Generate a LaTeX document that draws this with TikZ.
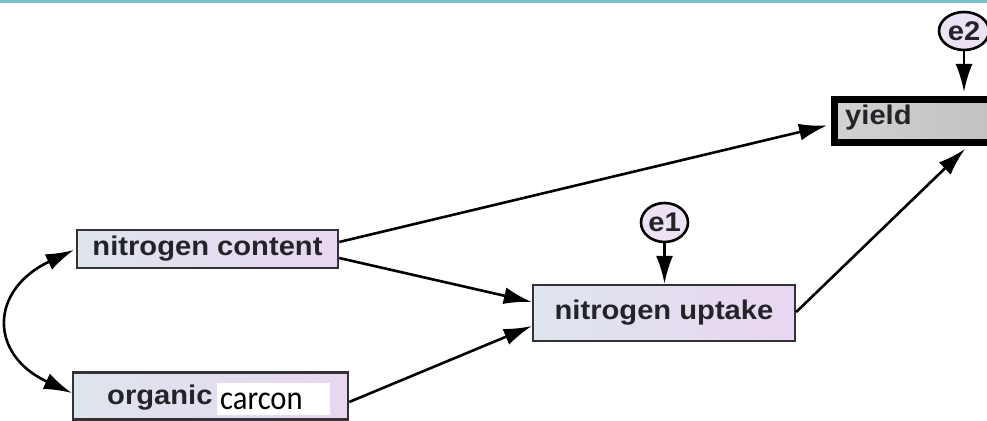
\documentclass[tikz,border=0pt]{standalone}
\usepackage{fontspec}
\usetikzlibrary{arrows.meta,shapes.geometric,calc}
\newfontfamily\lab{Liberation Sans}[FakeStretch=1.08]
\newfontfamily\calib{Carlito}[FakeStretch=0.9]
\newcommand\labfont{\lab\bfseries\fontsize{27}{30}\selectfont}
\definecolor{teal1}{RGB}{122,194,205}
\definecolor{boxline}{RGB}{50,50,55}
\definecolor{nl}{RGB}{222,229,236}
\definecolor{nr}{RGB}{233,214,241}
\definecolor{ellfill}{RGB}{236,226,243}
\definecolor{txt}{RGB}{35,35,40}
\definecolor{ygray}{RGB}{192,192,192}
\definecolor{ygrayl}{RGB}{210,210,210}
\tikzset{
  varbox/.style={draw=boxline, line width=2.4pt, inner sep=0pt, left color=nl, right color=nr, text=txt, font=\labfont},
  errell/.style={ellipse, draw=black, line width=2.6pt, fill=ellfill, inner sep=0pt, text=txt, font=\labfont},
  arr/.style={line width=2.6pt, -{Latex[length=28pt,width=17pt]}},
  darr/.style={line width=2.6pt, {Latex[length=28pt,width=17pt]}-{Latex[length=28pt,width=17pt]}}
}
\begin{document}
\begin{tikzpicture}[x=1pt,y=-1pt]
\useasboundingbox (0,0) rectangle (987,420);
\clip (0,0) rectangle (987,420);
\fill[white] (0,0) rectangle (987,420);
\fill[teal1] (0,0) rectangle (987,3.5);

% observed variables
\node[varbox, minimum width=261pt, minimum height=38pt] (nc) at (207.5,249) {nitrogen content};
\node[varbox, minimum width=275pt, minimum height=47pt] (oc) at (210.5,396) {};
\node[font=\labfont, text=txt, inner sep=0pt, anchor=base west] (org) at (107,404) {organic};
\node[fill=white, inner sep=0pt, minimum width=113pt, minimum height=32pt, anchor=west] (carbg) at (217,399) {};
\node[font=\calib\fontsize{34}{38}\selectfont, text=black, inner sep=0pt, anchor=base west] (car) at (220,409) {carcon};
\node[varbox, minimum width=262pt, minimum height=56pt] (nu) at (664,313) {nitrogen uptake};

% yield
\node[draw=black, line width=7pt, left color=ygrayl, right color=ygray, inner sep=0pt, minimum width=175pt, minimum height=43pt, anchor=north west] (y) at (830.5,95.5) {};
\node[font=\labfont, text=txt, inner sep=0pt, anchor=base west] (ytxt) at (845,124) {yield};

% errors
\node[errell, minimum width=47pt, minimum height=39pt] (e1) at (664.5,222.5) {e1};
\node[errell, minimum width=50pt, minimum height=38pt] (e2) at (964,31) {e2};

% connectors
\draw[arr] ($(nc.east)+(0,-7)$) -- ($(y.west)+(-3.5,5)$);
\draw[arr] ($(nc.east)+(0,9)$) -- ($(nu.west)+(0,-11)$);
\draw[arr] ($(oc.east)+(0,6)$) -- ($(nu.west)+(0,13)$);
\draw[arr] ($(nu.east)+(0,-1)$) -- ($(y.south west)+(134.5,3.5)$);
\draw[arr] (e1.south) -- (e1.south |- nu.north);
\draw[arr] (e2.south) -- ($(e2.south |- y.north)+(0,-3.5)$);
\draw[darr] ($(nc.west)+(-2,1)$) .. controls (-11,290) and (-11,355) .. ($(oc.west)+(0,-3)$);
\end{tikzpicture}
\end{document}
